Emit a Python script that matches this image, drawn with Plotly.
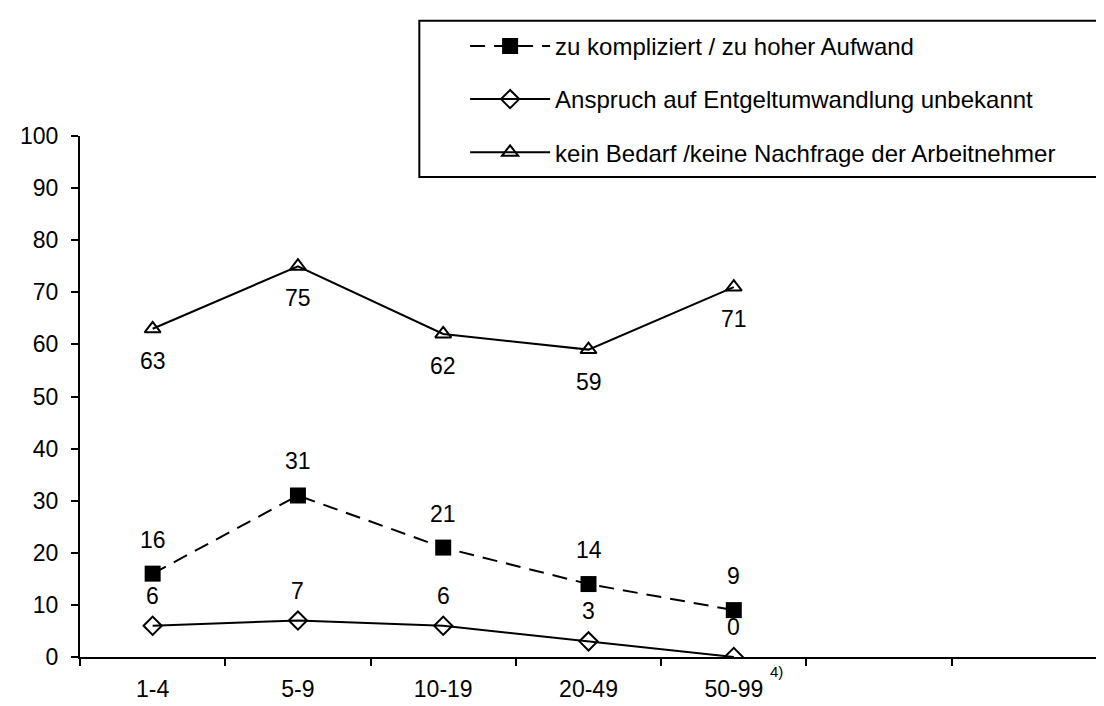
import plotly.graph_objects as go

# ---- data ----
categories = ["1-4", "5-9", "10-19", "20-49", "50-99"]
extra_slots = [" ", "  "]          # two empty category slots on the right
footnote = "4)"

zu_kompliziert = [16, 31, 21, 14, 9]
anspruch_unbekannt = [6, 7, 6, 3, 0]
kein_bedarf = [63, 75, 62, 59, 71]

names = [
    "zu kompliziert / zu hoher Aufwand",
    "Anspruch auf Entgeltumwandlung unbekannt",
    "kein Bedarf /keine Nachfrage der Arbeitnehmer",
]

y_ticks = list(range(0, 101, 10))

# ---- figure ----
FONT = "Liberation Sans, Arial, sans-serif"
all_cats = categories + extra_slots

fig = go.Figure()

fig.add_trace(go.Scatter(
    x=categories, y=zu_kompliziert, name=names[0], legendgroup="a",
    mode="lines+markers",
    line=dict(color="black", width=2, dash="15px,9px"),
    marker=dict(symbol="square", size=16, color="black"),
))
fig.add_trace(go.Scatter(
    x=categories, y=anspruch_unbekannt, name=names[1], legendgroup="b",
    mode="lines+markers",
    line=dict(color="black", width=2),
    marker=dict(symbol="diamond-open", size=14, color="black", line=dict(width=2)),
))
fig.add_trace(go.Scatter(
    x=categories, y=kein_bedarf, name=names[2], legendgroup="c",
    mode="lines+markers",
    line=dict(color="black", width=2),
    marker=dict(symbol="triangle-up-open", size=14, color="black", line=dict(width=2)),
))

L, R, T, B = 67, 15, 128, 44
W, H = 1104, 706
pw, ph = W - L - R, H - T - B

def px_x(p):
    return (p - L) / pw

def px_y(p):
    return (H - B - p) / ph

# data labels
ann = []
for vals, shift in ((zu_kompliziert, 34), (anspruch_unbekannt, 30), (kein_bedarf, -32)):
    for c, v in zip(categories, vals):
        ann.append(dict(x=c, y=v, xref="x", yref="y", text=str(v), showarrow=False,
                        yshift=shift, font=dict(family=FONT, size=23, color="black")))

# footnote marker next to the last category label
ann.append(dict(x=categories[-1], y=px_y(688), xref="x", yref="paper", text=footnote,
                showarrow=False, xshift=43, font=dict(family=FONT, size=15, color="black")))

fig.update_layout(
    width=W, height=H,
    margin=dict(l=L, r=R, t=T, b=B),
    paper_bgcolor="white", plot_bgcolor="white",
    font=dict(family=FONT, size=23, color="black"),
    annotations=ann,
    showlegend=True,
    legend=dict(
        x=px_x(454), y=px_y(13), xanchor="left", yanchor="top",
        bgcolor="rgba(0,0,0,0)", borderwidth=0,
        font=dict(family=FONT, size=24, color="black"),
        itemwidth=80, tracegroupgap=19, traceorder="grouped",
    ),
    shapes=[dict(type="rect", xref="paper", yref="paper",
                 x0=px_x(408), x1=px_x(1101), y0=px_y(170), y1=px_y(10),
                 line=dict(color="black", width=2), fillcolor="rgba(0,0,0,0)")],
    xaxis=dict(
        type="category", categoryorder="array", categoryarray=all_cats,
        tickmode="array", tickvals=all_cats, ticktext=all_cats,
        range=[-0.5, len(all_cats) - 0.5],
        tickson="boundaries", ticks="outside", ticklen=7, tickwidth=2, tickcolor="black",
        showline=True, linecolor="black", linewidth=2,
        showgrid=False, zeroline=False, ticklabelstandoff=10,
    ),
    yaxis=dict(
        range=[0, 100], tickvals=y_ticks,
        ticks="outside", ticklen=7, tickwidth=2, tickcolor="black",
        showline=True, linecolor="black", linewidth=2,
        showgrid=False, zeroline=False, ticklabelstandoff=8,
    ),
)

fig.write_html("out.html")
